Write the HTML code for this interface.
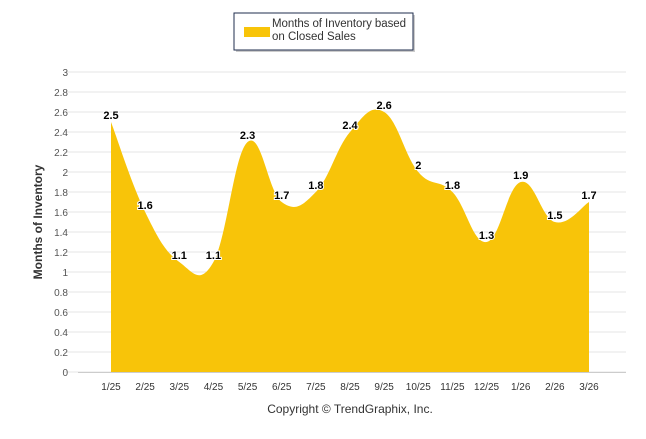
<!DOCTYPE html>
<html><head><meta charset="utf-8"><style>
body{margin:0;background:#fff;font-family:"Liberation Sans",sans-serif}
svg text{font-family:"Liberation Sans",sans-serif}
</style></head><body>
<svg id="c" width="646" height="434">
<g>
<rect x="236" y="15" width="179" height="37" fill="#999" opacity="0.5"/>
<rect x="234" y="13" width="179" height="37" fill="#fff" stroke="#1f2d4d" stroke-width="1"/>
<rect x="244" y="27" width="26" height="10" fill="#f8c409"/>
<text x="272" y="27" font-size="11.5" textLength="134" fill="#333">Months of Inventory based</text>
<text x="272" y="40" font-size="11.5" fill="#333">on Closed Sales</text>
</g>
<g id="grid"></g>
<g id="area"></g>
<g id="labels"></g>
<text transform="translate(42,222) rotate(-90)" text-anchor="middle" font-size="12" font-weight="bold" fill="#333">Months of Inventory</text>
<text x="350" y="413" text-anchor="middle" font-size="12" fill="#333">Copyright © TrendGraphix, Inc.</text>
</svg>
<script>
const categories=["1/25","2/25","3/25","4/25","5/25","6/25","7/25","8/25","9/25","10/25","11/25","12/25","1/26","2/26","3/26"];
const values=[2.5,1.6,1.1,1.1,2.3,1.7,1.8,2.4,2.6,2,1.8,1.3,1.9,1.5,1.7];
const yTicks=[0,0.2,0.4,0.6,0.8,1,1.2,1.4,1.6,1.8,2,2.2,2.4,2.6,2.8,3];
const NS="http://www.w3.org/2000/svg";
const x0=111,dx=(589-111)/14;
const X=i=>x0+i*dx, Y=v=>372-v*100;
function mk(t,a,p){const e=document.createElementNS(NS,t);for(const k in a)e.setAttribute(k,a[k]);p.appendChild(e);return e;}
const grid=document.getElementById('grid');
yTicks.forEach(t=>{
 const l=mk('line',{x1:64,x2:626,y1:Y(t),y2:Y(t),stroke:'#e6e6e6'},grid);
 
 
 const tx=mk('text',{x:68,y:Y(t)+4,'text-anchor':'end','font-size':10,fill:'#555'},grid);
 
 
 tx.textContent=t;
});
const bl=mk('line',{x1:78,x2:626,y1:372.5,y2:372.5,stroke:'#ccc'},grid);


categories.forEach((c,i)=>{
 const tx=mk('text',{x:X(i),y:390,'text-anchor':'middle','font-size':10,fill:'#333'},grid);
 
 
 tx.textContent=c;
});
const pts=values.map((v,i)=>[X(i),Y(v)]);
let d=`M${pts[0][0]},372 L${pts[0][0]},${pts[0][1]}`;
for(let i=0;i<pts.length-1;i++){
 const p0=pts[Math.max(i-1,0)],p1=pts[i],p2=pts[i+1],p3=pts[Math.min(i+2,pts.length-1)];
 const k=1/5;
 const c1=[p1[0]+(p2[0]-p0[0])*k,p1[1]+(p2[1]-p0[1])*k];
 const c2=[p2[0]-(p3[0]-p1[0])*k,p2[1]-(p3[1]-p1[1])*k];
 d+=` C${c1[0]},${c1[1]} ${c2[0]},${c2[1]} ${p2[0]},${p2[1]}`;
}
d+=` L${pts[pts.length-1][0]},372 Z`;
const area=mk('path',{d:d,fill:'#f8c409'},document.getElementById('area'));


const lab=document.getElementById('labels');
values.forEach((v,i)=>{
 const t=mk('text',{x:X(i),y:Y(v)-3,'text-anchor':'middle','font-size':11,'font-weight':'bold',fill:'#000',stroke:'#fff','stroke-width':2,'paint-order':'stroke'},lab);
 
 
 t.textContent=v;
});
</script>
</body></html>
